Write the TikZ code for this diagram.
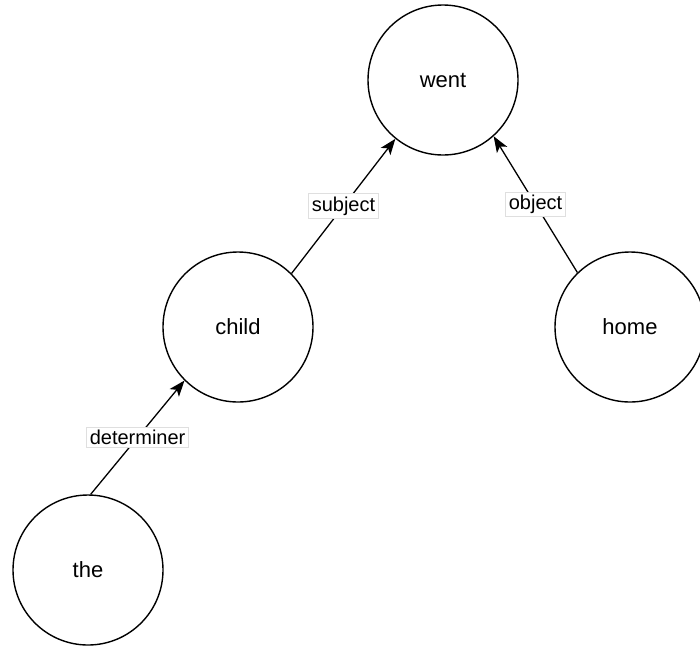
\documentclass[tikz,border=0pt]{standalone}
\usepackage{fontspec}
\setmainfont{Liberation Sans}
\usetikzlibrary{arrows.meta}
\tikzset{
  % Word nodes
  word/.style={
    draw, circle, line width=1.4pt,
    minimum size=150pt, inner sep=0pt,
    font=\fontsize{22}{26}\selectfont
  },
  % Dependency arrows
  dep/.style={
    -{Stealth[length=16pt, width=12pt, inset=4pt]},
    line width=1.3pt
  },
  % Relation labels
  rel/.style={
    fill=white, draw=gray!25, line width=0.8pt,
    inner xsep=3pt, inner ysep=3pt,
    font=\fontsize{20}{24}\selectfont
  },
}

\begin{document}
\begin{tikzpicture}[x=1pt, y=-1pt]
  \useasboundingbox (0,0) rectangle (700,646);

  %% ── Words ──
  \node[word] (went)  at (443,80)  {went};
  \node[word] (child) at (238,327) {child};
  \node[word] (home)  at (630,327) {home};
  \node[word] (the)   at (88,570)  {the};

  %% ── Dependencies ──
  \draw[dep] (child.45) -- node[rel] {subject} (went.231);
  \draw[dep] (home.134) -- node[rel] {object} (went.312);
  \draw[dep] (the.88) -- node[rel] {determiner} (child.225);

\end{tikzpicture}
\end{document}
